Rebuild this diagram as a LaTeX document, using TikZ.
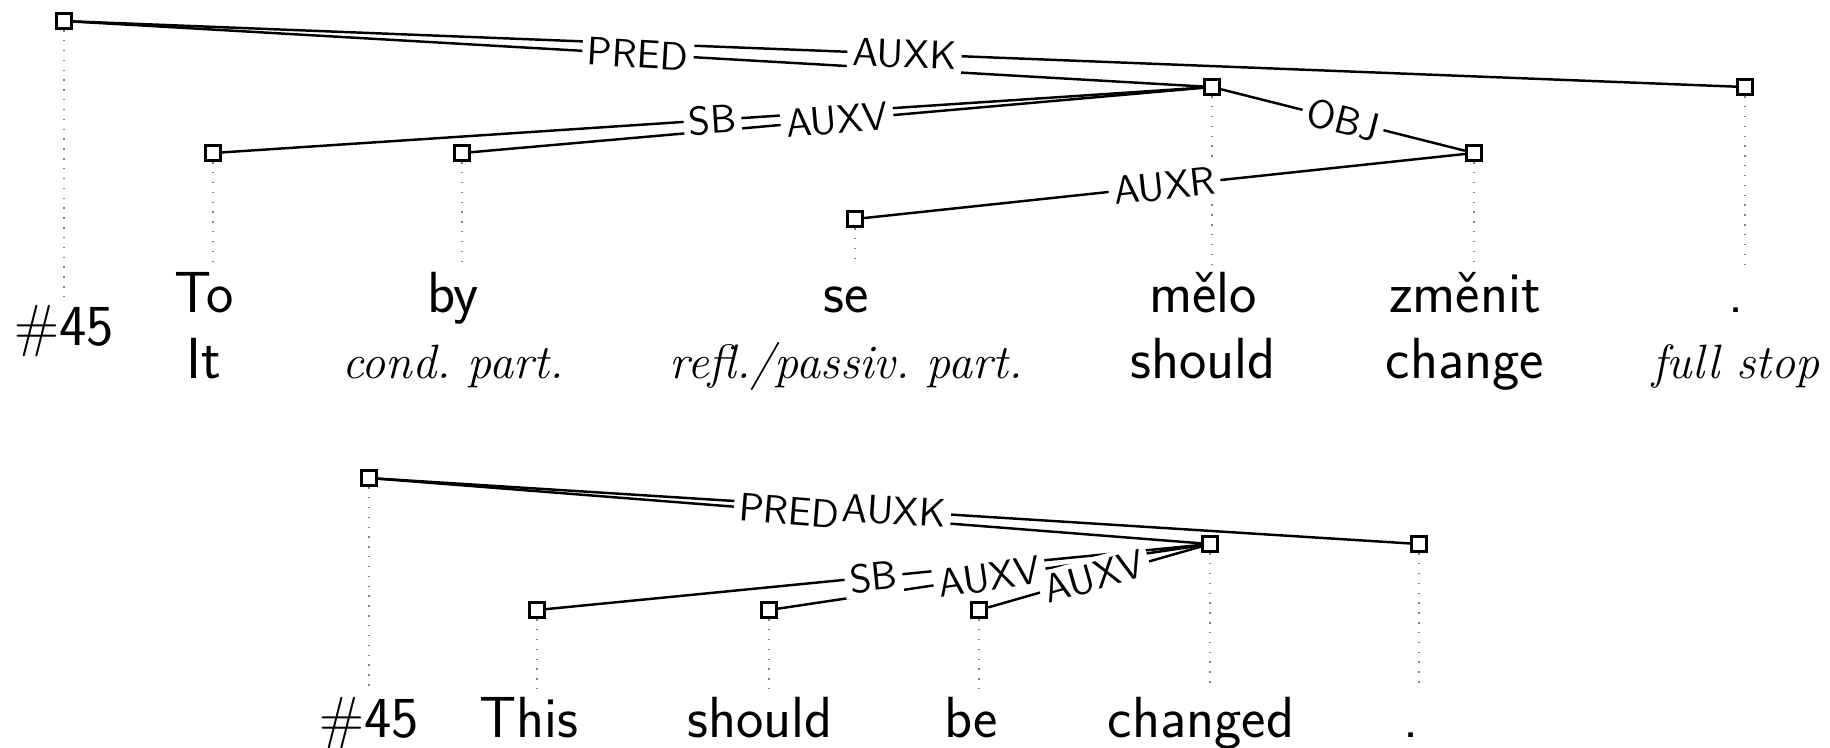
\documentclass[tikz,border=0pt]{standalone}
\usepackage{fontspec}
\begin{document}
\begin{tikzpicture}[x=0.01cm, y=-0.01cm,
    tok/.style={draw, line width=0.8pt, fill=white, inner sep=0pt, minimum size=4.4pt},
    word/.style={anchor=base, inner sep=2pt, text height=11.4pt, font=\fontsize{16.5}{19}\selectfont\sffamily},
    gloss/.style={anchor=base, inner sep=2pt, font=\fontsize{13.7}{16}\selectfont\rmfamily\itshape},
    dep/.style={line width=0.7pt},
    deplabel/.style={midway, sloped, fill=white, inner sep=1.5pt, font=\fontsize{11.3}{13}\selectfont\sffamily},
    guide/.style={gray, line width=0.4pt, dash pattern=on 0.4pt off 2.4pt}]
    \useasboundingbox (0,0) rectangle (1830,747);

    % Czech sentence
    \node[tok] (t0) at (64,21) {};
    \node[tok] (t1) at (213,153) {};
    \node[tok] (t2) at (462,153) {};
    \node[tok] (t3) at (855,219) {};
    \node[tok] (t4) at (1212,87) {};
    \node[tok] (t5) at (1474,153) {};
    \node[tok] (t6) at (1745,87) {};

    \node[word] (tw0) at (64,345) {$\#$45};
    \node[word] (tw1) at (204,312) {To};
    \node[word] (tw2) at (453,312) {by};
    \node[word] (tw3) at (846,312) {se};
    \node[word] (tw4) at (1203,312) {mělo};
    \node[word] (tw5) at (1465,312) {změnit};
    \node[word] (tw6) at (1736,312) {.};

    \node[word] (tg1) at (204,378) {It};
    \node[gloss] (tg2) at (453,378) {cond.\ part.};
    \node[gloss] (tg3) at (846,378) {refl./passiv.\ part.};
    \node[word] (tg4) at (1203,378) {should};
    \node[word] (tg5) at (1465,378) {change};
    \node[gloss] (tg6) at (1736,378) {full stop};

    \draw[guide] (t0) -- (t0 |- tw0.north); \draw[guide] (t1) -- (t1 |- tw1.north);
    \draw[guide] (t2) -- (t2 |- tw2.north); \draw[guide] (t3) -- (t3 |- tw3.north);
    \draw[guide] (t4) -- (t4 |- tw4.north); \draw[guide] (t5) -- (t5 |- tw5.north);
    \draw[guide] (t6) -- (t6 |- tw6.north);

    \draw[dep] (t0) -- (t4); \draw[dep] (t0) -- (t6); \draw[dep] (t4) -- (t1);
    \draw[dep] (t4) -- (t2); \draw[dep] (t4) -- (t5); \draw[dep] (t5) -- (t3);

    \path (t0) -- (t4) node[deplabel] {PRED};
    \path (t0) -- (t6) node[deplabel] {AUXK};
    \path (t4) -- (t1) node[deplabel] {SB};
    \path (t4) -- (t2) node[deplabel] {AUXV};
    \path (t4) -- (t5) node[deplabel] {OBJ};
    \path (t5) -- (t3) node[deplabel] {AUXR};

    % English sentence
    \node[tok] (b0) at (369,478) {};
    \node[tok] (b1) at (537,610) {};
    \node[tok] (b2) at (769,610) {};
    \node[tok] (b3) at (979,610) {};
    \node[tok] (b4) at (1210,544) {};
    \node[tok] (b5) at (1419,544) {};

    \node[word] (bw0) at (369,737) {$\#$45};
    \node[word] (bw1) at (529,737) {This};
    \node[word] (bw2) at (760,737) {should};
    \node[word] (bw3) at (971,737) {be};
    \node[word] (bw4) at (1201,737) {changed};
    \node[word] (bw5) at (1411,737) {.};

    \draw[guide] (b0) -- (b0 |- bw0.north); \draw[guide] (b1) -- (b1 |- bw1.north);
    \draw[guide] (b2) -- (b2 |- bw2.north); \draw[guide] (b3) -- (b3 |- bw3.north);
    \draw[guide] (b4) -- (b4 |- bw4.north); \draw[guide] (b5) -- (b5 |- bw5.north);

    \draw[dep] (b0) -- (b4); \draw[dep] (b0) -- (b5); \draw[dep] (b4) -- (b1);
    \draw[dep] (b4) -- (b2); \draw[dep] (b4) -- (b3);

    \path (b0) -- (b4) node[deplabel] {PRED};
    \path (b0) -- (b5) node[deplabel] {AUXK};
    \path (b4) -- (b1) node[deplabel] {SB};
    \path (b4) -- (b2) node[deplabel] {AUXV};
    \path (b4) -- (b3) node[deplabel] {AUXV};
\end{tikzpicture}
\end{document}
